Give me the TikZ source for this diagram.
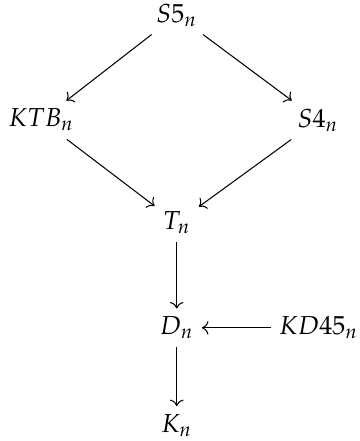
\documentclass[tikz,border=0pt]{standalone}
\usepackage{mathpazo}
\usetikzlibrary{arrows.meta, positioning}
\tikzset{
  logique/.style={inner sep=3pt},
  inclusion/.style={->, line width=0.4pt, color=black},
}
\begin{document}
\begin{tikzpicture}[node distance=1.38cm and 1.85cm, on grid]
    \useasboundingbox (-2.39,0.203) rectangle (2.47,-5.76);
    \node[logique] (s5) {$S5_n$};
    \node[logique, below left=1.42cm and 1.83cm of s5] (ktb) {$KTB_n$};
    \node[logique, below right=1.42cm and 1.91cm of s5] (s4) {$S4_n$};
    \node[logique, below=2.81cm of s5] (t) {$T_n$};
    \node[logique, below=1.42cm of t] (d) {$D_n$};
    \node[logique, right=1.92cm of d] (kd45) {$KD45_n$};
    \node[logique, below=1.32cm of d] (k) {$K_n$};

    \draw[inclusion] (s5) -- (ktb);
    \draw[inclusion] (s5) -- (s4);
    \draw[inclusion] (ktb) -- (t);
    \draw[inclusion] (s4) -- (t);
    \draw[inclusion] (t) -- (d);
    \draw[inclusion] (kd45) -- (d);
    \draw[inclusion] (d) -- (k);
  \end{tikzpicture}
\end{document}
